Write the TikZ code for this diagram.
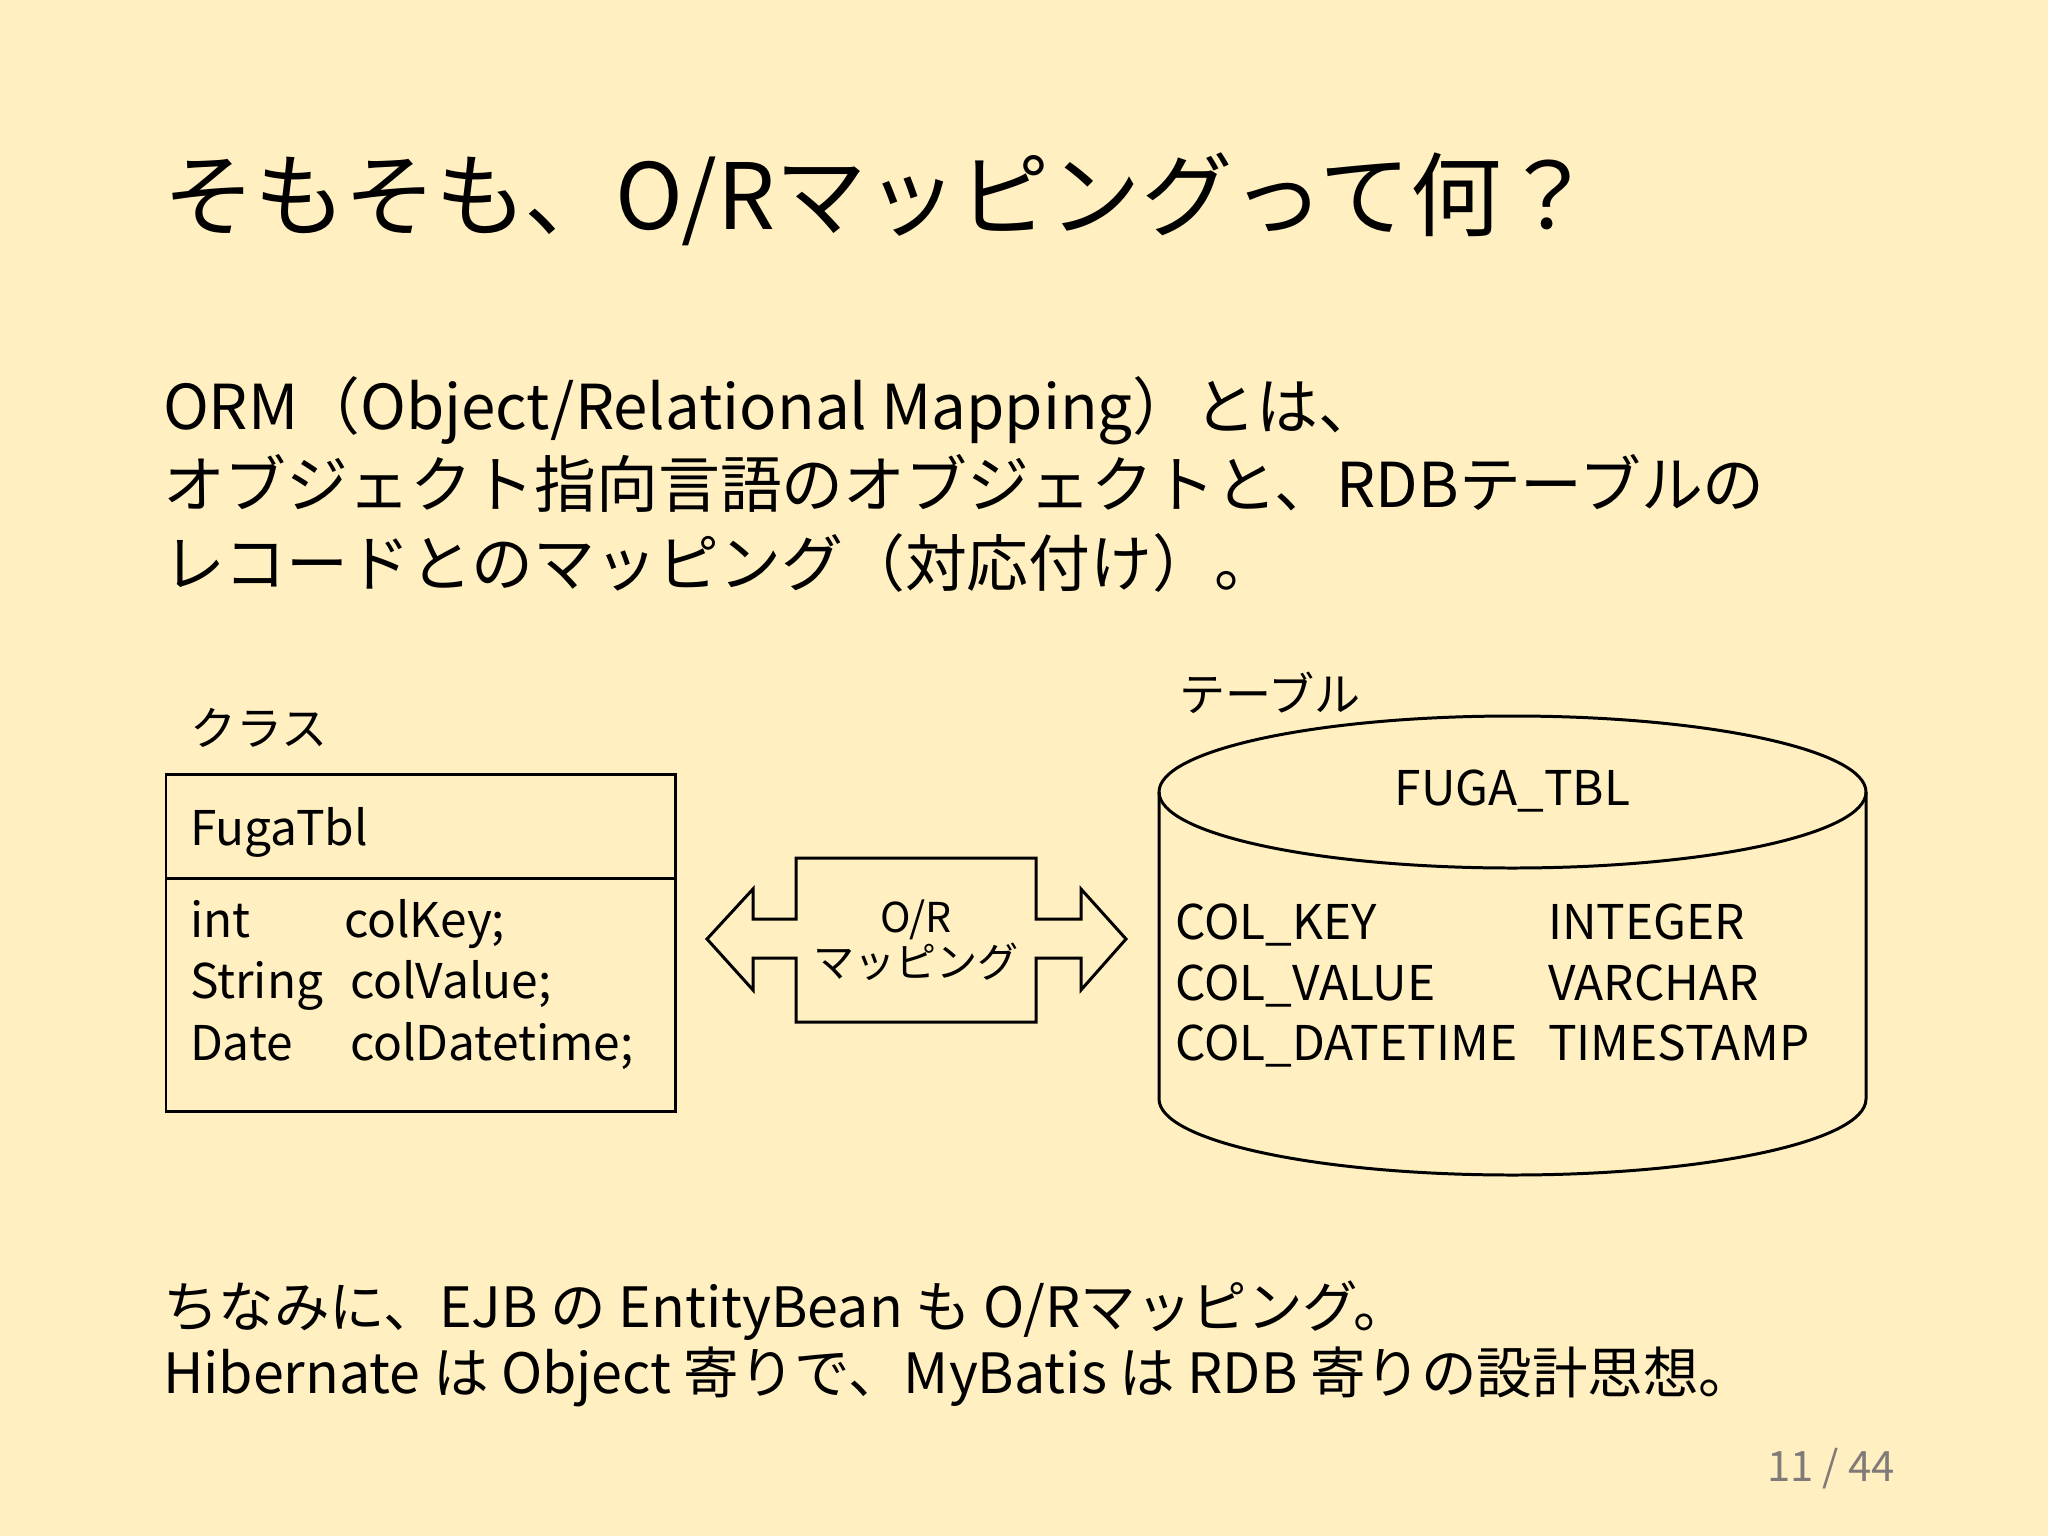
\documentclass[tikz,border=0pt]{standalone}
\usepackage{fontspec}
\setmainfont{Noto Sans CJK JP}
\definecolor{bg}{RGB}{255,239,193}
\definecolor{pagegray}{RGB}{128,122,120}
\begin{document}
\begin{tikzpicture}[x=0.01cm,y=0.01cm,
  txt/.style={anchor=base west, inner sep=0pt, outer sep=0pt},
  titletext/.style={txt, font=\fontsize{26pt}{30pt}\selectfont},
  bodytext/.style={txt, font=\fontsize{17.6pt}{22pt}\selectfont},
  notetext/.style={txt, font=\fontsize{15.8pt}{20pt}\selectfont},
  codetext/.style={txt, font=\fontsize{13.6pt}{16pt}\selectfont},
  captext/.style={txt, font=\fontsize{13.1pt}{16pt}\selectfont},
  labeltext/.style={align=center, inner sep=0pt, font=\fontsize{11.7pt}{11.9pt}\selectfont},
  outline/.style={draw=black, line width=0.85pt},
  classpart/.style={outline, minimum width=5.09cm, inner sep=0pt, outer sep=0pt, anchor=north west},
]
\useasboundingbox (0,0) rectangle (2048,-1536);
\fill[bg] (0,0) rectangle (2048,-1536);

% title
\node[titletext] (title) at (163,-229) {そもそも、O/Rマッピングって何？};

% body
\node[bodytext] (l1) at (163,-429) {ORM（Object/Relational Mapping）とは、};
\node[bodytext] (l2) at (163,-507) {オブジェクト指向言語のオブジェクトと、RDBテーブルの};
\node[bodytext] (l3) at (163,-586) {レコードとのマッピング（対応付け）。};

% class
\node[captext] (classcap) at (190,-745) {クラス};
\node[classpart, minimum height=1.04cm] (classhead) at (166,-774) {};
\node[classpart, minimum height=2.33cm] (classbody) at (classhead.south west) {};
\node[codetext] (cname) at (190,-845) {FugaTbl};
\node[codetext] (t1) at (190,-937) {int};
\node[codetext] (t2) at (190,-998) {String};
\node[codetext] (t3) at (190,-1060) {Date};
\node[codetext] (f1) at (344,-937) {colKey;};
\node[codetext] (f2) at (350,-998) {colValue;};
\node[codetext] (f3) at (350,-1060) {colDatetime;};

% mapping arrow
\draw[outline, line join=miter]
  (707,-939) -- (753,-889) -- (753,-919) -- (796,-919) -- (796,-858)
  -- (1036,-858) -- (1036,-919) -- (1081,-919) -- (1081,-889)
  -- (1126,-939) -- (1081,-990) -- (1081,-958) -- (1036,-958)
  -- (1036,-1022) -- (796,-1022) -- (796,-958) -- (753,-958)
  -- (753,-990) -- cycle;
\node[labeltext] (maplabel) at (916,-940) {O/R\\マッピング};

% table cylinder
\node[captext] (tablecap) at (1179,-711) {テーブル};
\draw[outline] (1512.5,-792) ellipse (353.5 and 76);
\draw[outline] (1159,-792) -- (1159,-1099) arc (180:360:353.5 and 76) -- (1866,-792);
\node[codetext, anchor=base] (tname) at (1512.5,-805) {FUGA\_TBL};
\node[codetext] (c1) at (1175,-939) {COL\_KEY};
\node[codetext] (c2) at (1175,-1000) {COL\_VALUE};
\node[codetext] (c3) at (1175,-1060) {COL\_DATETIME};
\node[codetext] (d1) at (1548,-939) {INTEGER};
\node[codetext] (d2) at (1548,-1000) {VARCHAR};
\node[codetext] (d3) at (1548,-1060) {TIMESTAMP};

% notes
\node[notetext] (n1) at (163,-1327) {ちなみに、EJB の EntityBean も O/Rマッピング。};
\node[notetext] (n2) at (163,-1393) {Hibernate は Object 寄りで、MyBatis は RDB 寄りの設計思想。};

% page number
\node[txt, text=pagegray, font=\fontsize{11.9pt}{14pt}\selectfont] (page) at (1767,-1481) {11 / 44};
\end{tikzpicture}
\end{document}
